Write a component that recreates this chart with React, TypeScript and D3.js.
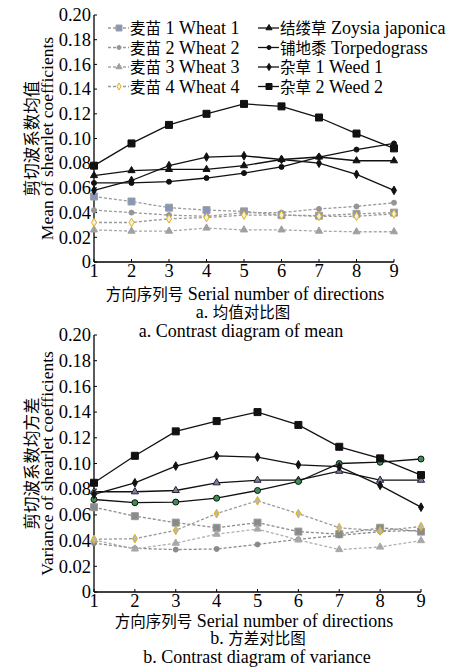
import React, { useEffect, useRef } from 'react';
import * as d3 from 'd3';

// direction index (x axis)
const directions = [1, 2, 3, 4, 5, 6, 7, 8, 9];
const yTicks = [0, 0.02, 0.04, 0.06, 0.08, 0.1, 0.12, 0.14, 0.16, 0.18, 0.2];

// a. mean of shearlet coefficients
const meanWheat1 = [0.053, 0.049, 0.044, 0.042, 0.041, 0.038, 0.0375, 0.039, 0.04];
const meanWheat2 = [0.042, 0.04, 0.038, 0.037, 0.04, 0.04, 0.043, 0.045, 0.048];
const meanWheat3 = [0.026, 0.025, 0.025, 0.0275, 0.026, 0.026, 0.025, 0.0245, 0.0245];
const meanWheat4 = [0.032, 0.032, 0.035, 0.036, 0.038, 0.038, 0.037, 0.037, 0.039];
const meanZoysia = [0.07, 0.074, 0.075, 0.075, 0.078, 0.083, 0.085, 0.082, 0.082];
const meanTorpedo = [0.064, 0.064, 0.065, 0.068, 0.072, 0.077, 0.085, 0.091, 0.096];
const meanWeed1 = [0.058, 0.066, 0.078, 0.085, 0.086, 0.083, 0.08, 0.071, 0.058];
const meanWeed2 = [0.078, 0.096, 0.111, 0.12, 0.128, 0.126, 0.117, 0.104, 0.092];

// b. variance of shearlet coefficients
const varWheat1 = [0.066, 0.059, 0.054, 0.05, 0.054, 0.047, 0.045, 0.05, 0.047];
const varWheat2 = [0.038, 0.034, 0.033, 0.0335, 0.037, 0.041, 0.044, 0.047, 0.048];
const varWheat3 = [0.0405, 0.0335, 0.038, 0.045, 0.049, 0.0405, 0.033, 0.035, 0.04];
const varWheat4 = [0.041, 0.0415, 0.048, 0.061, 0.071, 0.061, 0.05, 0.0475, 0.051];
const varZoysia = [0.078, 0.078, 0.079, 0.085, 0.087, 0.087, 0.094, 0.087, 0.087];
const varTorpedo = [0.072, 0.0695, 0.07, 0.073, 0.079, 0.086, 0.1, 0.101, 0.1035];
const varWeed1 = [0.076, 0.085, 0.098, 0.106, 0.105, 0.099, 0.0975, 0.083, 0.066];
const varWeed2 = [0.085, 0.106, 0.125, 0.133, 0.14, 0.13, 0.113, 0.104, 0.091];

const seriesNames = [
  '麦苗 1 Wheat 1', '麦苗 2 Wheat 2', '麦苗 3 Wheat 3', '麦苗 4 Wheat 4',
  '结缕草 Zoysia japonica', '铺地黍 Torpedograss', '杂草 1 Weed 1', '杂草 2 Weed 2',
];

const LATIN = "'Liberation Serif', 'Times New Roman', serif";
const CJK = "'Noto Sans CJK SC', sans-serif";

type Style = { line: string; dash: string | null; shape: string; fill: string; stroke: string; size: number };

const topStyles: Style[] = [
  { line: '#9a9a9a', dash: '3,2', shape: 'square', fill: '#8796bd', stroke: '#a0a0a0', size: 7 },
  { line: '#9a9a9a', dash: '3,2', shape: 'circle', fill: '#959595', stroke: '#959595', size: 5 },
  { line: '#a8a8a8', dash: '3,2', shape: 'triangle', fill: '#a0a0a0', stroke: '#a0a0a0', size: 7 },
  { line: '#9a9a9a', dash: '3,2', shape: 'diamond', fill: '#f4f0e0', stroke: '#e2b21a', size: 6 },
  { line: '#111', dash: null, shape: 'triangle', fill: '#111', stroke: '#111', size: 7 },
  { line: '#111', dash: null, shape: 'circle', fill: '#111', stroke: '#111', size: 5 },
  { line: '#111', dash: null, shape: 'diamond', fill: '#111', stroke: '#111', size: 6 },
  { line: '#111', dash: null, shape: 'square', fill: '#111', stroke: '#111', size: 7 },
];

const bottomStyles: Style[] = [
  { line: '#8a8a8a', dash: '3,2', shape: 'square', fill: '#8a8a8a', stroke: '#9a9a9a', size: 7 },
  { line: '#8a8a8a', dash: '3,2', shape: 'circle', fill: '#8a8a8a', stroke: '#8a8a8a', size: 5 },
  { line: '#b0b0b0', dash: '3,2', shape: 'triangle', fill: '#a8a8a8', stroke: '#a8a8a8', size: 7 },
  { line: '#9a9a9a', dash: '3,2', shape: 'diamond', fill: '#b8b8b8', stroke: '#e2b21a', size: 6 },
  { line: '#111', dash: null, shape: 'triangle', fill: '#7c7cb4', stroke: '#222', size: 7 },
  { line: '#111', dash: null, shape: 'circle', fill: '#3b8f55', stroke: '#111', size: 6 },
  { line: '#111', dash: null, shape: 'diamond', fill: '#111', stroke: '#111', size: 6 },
  { line: '#111', dash: null, shape: 'square', fill: '#111', stroke: '#111', size: 7 },
];

const symbolType = (s: string) =>
  s === 'square' ? d3.symbolSquare : s === 'circle' ? d3.symbolCircle : s === 'triangle' ? d3.symbolTriangle : d3.symbolDiamond;

const drawMarker = (g: any, st: Style, x: number, y: number) => {
  const area = st.shape === 'circle' ? Math.PI * (st.size / 2) ** 2 : st.shape === 'triangle' ? st.size * st.size * 0.45 : st.size * st.size * (st.shape === 'diamond' ? 0.6 : 1);
  g.append('path')
    .attr('d', d3.symbol().type(symbolType(st.shape)).size(area)())
    .attr('transform', `translate(${x},${y})`)
    .attr('fill', st.fill)
    .attr('stroke', st.stroke)
    .attr('stroke-width', 1);
};

// text with Chinese runs set a bit smaller than the Latin runs
const mixedText = (g: any, str: string, size: number, cjkSize: number) => {
  const t = g.append('text').attr('font-family', LATIN).attr('font-size', size);
  const parts = str.match(/[\u4e00-\u9fff]+|[^\u4e00-\u9fff]+/g) || [];
  parts.forEach((p) => {
    const isCjk = /[\u4e00-\u9fff]/.test(p);
    t.append('tspan').attr('font-family', isCjk ? CJK : LATIN).attr('font-size', isCjk ? cjkSize : size).text(p);
  });
  return t;
};

const drawPanel = (svg: any, opts: any) => {
  const { left, right, top, bottom, series, styles, yTitle, xTitle, cap1, cap2, capX, capY } = opts;
  const x = d3.scaleLinear().domain([1, 9]).range([left, right]);
  const y = d3.scaleLinear().domain([0, 0.2]).range([bottom, top]);
  const g = svg.append('g');

  // axes
  g.append('line').attr('x1', left).attr('x2', left).attr('y1', top).attr('y2', bottom).attr('stroke', '#000').attr('stroke-width', 1.3);
  g.append('line').attr('x1', left).attr('x2', right).attr('y1', bottom).attr('y2', bottom).attr('stroke', '#000').attr('stroke-width', 1.3);
  yTicks.forEach((t) => {
    g.append('line').attr('x1', left).attr('x2', left + 3).attr('y1', y(t)).attr('y2', y(t)).attr('stroke', '#000');
    g.append('text').attr('x', left - 3).attr('y', y(t)).attr('dy', '0.34em').attr('text-anchor', 'end')
      .attr('font-size', 18.5).attr('font-family', LATIN).text(t === 0 ? '0' : t.toFixed(2));
  });
  directions.forEach((d) => {
    g.append('line').attr('x1', x(d)).attr('x2', x(d)).attr('y1', bottom).attr('y2', bottom - 3).attr('stroke', '#000');
    g.append('text').attr('x', x(d)).attr('y', bottom + 15).attr('text-anchor', 'middle')
      .attr('font-size', 18.5).attr('font-family', LATIN).text(d);
  });

  // series
  series.forEach((vals: number[], i: number) => {
    const st = styles[i];
    const line = d3.line<number>().x((_, j) => x(directions[j])).y((v) => y(v));
    g.append('path').attr('d', line(vals)).attr('fill', 'none').attr('stroke', st.line)
      .attr('stroke-width', 1.3).attr('stroke-dasharray', st.dash);
  });
  series.forEach((vals: number[], i: number) => {
    vals.forEach((v, j) => drawMarker(g, styles[i], x(directions[j]), y(v)));
  });

  // titles
  const cy = (top + bottom) / 2;
  g.append('text').attr('transform', `translate(${yTitle.x1},${cy}) rotate(-90)`).attr('text-anchor', 'middle')
    .attr('dominant-baseline', 'central').attr('font-size', 16.5).attr('font-family', CJK).text(yTitle.zh);
  g.append('text').attr('transform', `translate(${yTitle.x2},${cy}) rotate(-90)`).attr('text-anchor', 'middle')
    .attr('dominant-baseline', 'central').attr('font-size', 17.5).attr('font-family', LATIN).text(yTitle.en);
  [xTitle, cap1, cap2].forEach((s: string, k: number) => {
    mixedText(g, s, 18, 15.5).attr('x', capX[k]).attr('y', capY[k]).attr('text-anchor', 'middle');
  });
  return { x, y };
};

const App = () => {
  const ref = useRef<SVGSVGElement>(null);

  useEffect(() => {
    const svg = d3.select(ref.current);
    svg.selectAll('*').remove();
    svg.append('rect').attr('width', 465).attr('height', 671).attr('fill', '#fff');

    drawPanel(svg, {
      left: 94, right: 394, top: 15, bottom: 262,
      series: [meanWheat1, meanWheat2, meanWheat3, meanWheat4, meanZoysia, meanTorpedo, meanWeed1, meanWeed2],
      styles: topStyles,
      yTitle: { zh: '剪切波系数均值', en: 'Mean of shearlet coefficients', x1: 31, x2: 47 },
      xTitle: '方向序列号 Serial number of directions',
      cap1: 'a. 均值对比图', cap2: 'a. Contrast diagram of mean',
      capX: [245, 243, 241], capY: [300, 318, 337],
    });

    drawPanel(svg, {
      left: 94, right: 421, top: 335, bottom: 592,
      series: [varWheat1, varWheat2, varWheat3, varWheat4, varZoysia, varTorpedo, varWeed1, varWeed2],
      styles: bottomStyles,
      yTitle: { zh: '剪切波系数均方差', en: 'Variance of shearlet coefficients', x1: 31, x2: 47 },
      xTitle: '方向序列号 Serial number of directions',
      cap1: 'b. 方差对比图', cap2: 'b. Contrast diagram of variance',
      capX: [254, 258, 257], capY: [627, 644, 663],
    });

    // legend (top panel)
    const leg = svg.append('g');
    seriesNames.forEach((name, i) => {
      const col = i < 4 ? 0 : 1;
      const row = i % 4;
      const lx = col === 0 ? 108 : 258;
      const ly = 28 + row * 19.5;
      const st = topStyles[i];
      leg.append('line').attr('x1', lx).attr('x2', lx + 21).attr('y1', ly).attr('y2', ly)
        .attr('stroke', st.line).attr('stroke-width', 1.3).attr('stroke-dasharray', st.dash);
      drawMarker(leg, { ...st, size: st.size - 1 }, lx + 11, ly);
      mixedText(leg, name, 18, 15.5).attr('x', lx + 22).attr('y', ly + 6);
    });
  }, []);

  return (
    <svg ref={ref} width={465} height={671} style={{ position: 'absolute', left: 0, top: 0, display: 'block' }} />
  );
};

export default App;
